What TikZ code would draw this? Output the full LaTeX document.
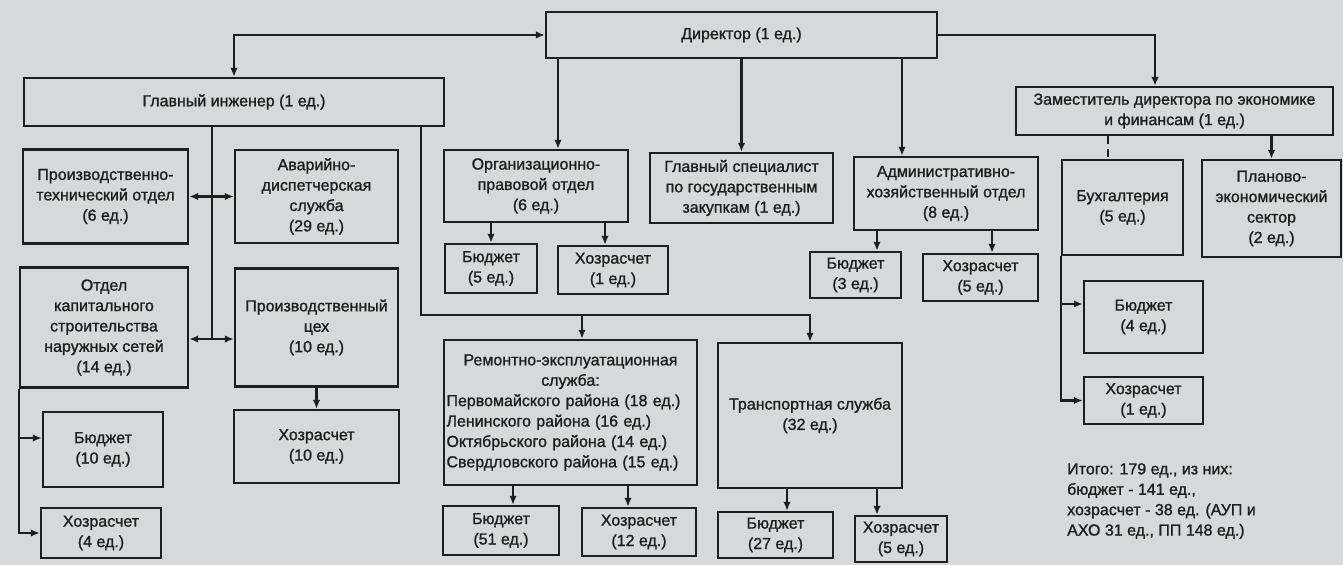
\documentclass[tikz,border=0pt]{standalone}
\usepackage{fontspec}
\setmainfont{Liberation Sans}[FakeBold=1.2]
\usepackage{tikz}
\usetikzlibrary{arrows.meta}
\definecolor{paper}{RGB}{214,217,217}
\definecolor{ink}{RGB}{30,30,30}

\begin{document}
\begin{tikzpicture}[x=0.5pt, y=-0.5pt, ->, >={Latex[length=4.5pt,width=3.8pt]},
    color=ink, line width=1.2pt,
    box/.style={draw, align=center, inner sep=1pt, font=\fontsize{8}{10.2}\selectfont}]
    \fill[paper, -] (0,0) rectangle (1343,565);
    \useasboundingbox (0,0) rectangle (1343,565);

    \node[box, minimum width=195.5pt, minimum height=23pt] (dir) at (741.5,35) {Директор (1 ед.)};
    \node[box, minimum width=210pt, minimum height=24pt] (glav) at (234,102) {Главный инженер (1 ед.)};
    \node[box, minimum width=158.5pt, minimum height=24pt] (zam) at (1174.5,111) {Заместитель директора по экономике\\и финансам (1 ед.)};

    \node[box, minimum width=82.5pt, minimum height=47pt] (pto) at (105.5,196.5) {Производственно-\\технический отдел\\(6 ед.)};
    \node[box, minimum width=81.5pt, minimum height=46.5pt] (ads) at (316.5,196.5) {Аварийно-\\диспетчерская\\служба\\(29 ед.)};
    \node[box, minimum width=84pt, minimum height=60pt] (oks) at (104,327.5) {Отдел\\капитального\\строительства\\наружных сетей\\(14 ед.)};
    \node[box, minimum width=81.5pt, minimum height=59pt] (pc) at (316.5,327.5) {Производственный\\цех\\(10 ед.)};
    \node[box, minimum width=82.5pt, minimum height=36.5pt] (pcK) at (316.5,446.5) {Хозрасчет\\(10 ед.)};
    \node[box, minimum width=60pt, minimum height=37.5pt] (oksB) at (103,449.5) {Бюджет\\(10 ед.)};
    \node[box, minimum width=60pt, minimum height=25pt] (oksK) at (101,533) {Хозрасчет\\(4 ед.)};

    \node[box, minimum width=92pt, minimum height=36pt] (opo) at (536,186) {Организационно-\\правовой отдел\\(6 ед.)};
    \node[box, minimum width=46pt, minimum height=24.5pt] (opoB) at (491,268.5) {Бюджет\\(5 ед.)};
    \node[box, minimum width=55pt, minimum height=24pt] (opoK) at (613,270) {Хозрасчет\\(1 ед.)};
    \node[box, minimum width=91.5pt, minimum height=35pt] (gs) at (741.5,188) {Главный специалист\\по государственным\\закупкам (1 ед.)};
    \node[box, minimum width=92pt, minimum height=36.5pt] (aho) at (946,193.5) {Административно-\\хозяйственный отдел\\(8 ед.)};
    \node[box, minimum width=45.5pt, minimum height=23pt] (ahoB) at (855.5,275) {Бюджет\\(3 ед.)};
    \node[box, minimum width=57.5pt, minimum height=23.5pt] (ahoK) at (980.5,277.5) {Хозрасчет\\(5 ед.)};

    \node[box, minimum width=60.5pt, minimum height=47.5pt] (buh) at (1122.5,207.5) {Бухгалтерия\\(5 ед.)};
    \node[box, minimum width=69.5pt, minimum height=48.5pt] (pes) at (1271.5,208.5) {Планово-\\экономический\\сектор\\(2 ед.)};
    \node[box, minimum width=59.5pt, minimum height=36pt] (buhB) at (1143.5,317) {Бюджет\\(4 ед.)};
    \node[box, minimum width=59.5pt, minimum height=23.5pt] (buhK) at (1143.5,400.5) {Хозрасчет\\(1 ед.)};

    \node[box, align=left, text width=124pt, inner xsep=1.25pt, minimum height=72.5pt] (res) at (570.5,412.5)
        {{\centering Ремонтно-эксплуатационная\\служба:\par}Первомайского района (18 ед.)\\Ленинского района (16 ед.)\\Октябрьского района (14 ед.)\\Свердловского района (15 ед.)};
    \node[box, minimum width=92pt, minimum height=72.5pt] (ts) at (810,415.5) {Транспортная служба\\(32 ед.)};
    \node[box, minimum width=58pt, minimum height=24.5pt] (resB) at (501,530.5) {Бюджет\\(51 ед.)};
    \node[box, minimum width=57pt, minimum height=24pt] (resK) at (639,532) {Хозрасчет\\(12 ед.)};
    \node[box, minimum width=57.5pt, minimum height=23pt] (tsB) at (775.5,535) {Бюджет\\(27 ед.)};
    \node[box, minimum width=46pt, minimum height=23pt] (tsK) at (901,539) {Хозрасчет\\(5 ед.)};

    \node[box, draw=none, align=left, anchor=north west, inner sep=0pt] (itogo) at (1066,462)
        {Итого: 179 ед., из них:\\бюджет - 141 ед.,\\хозрасчет - 38 ед. (АУП и\\АХО 31 ед., ПП 148 ед.)};

    \coordinate (bus) at (421,315);
    \coordinate (low) at ([yshift=-5.75pt]pc.west);

    \draw[<->] (dir.west) -| (glav.north);
    \draw (dir.east) -| ([xshift=-9.75pt]zam.north);
    \draw ([xshift=11pt]opo.north |- dir.south) -- ([xshift=11pt]opo.north);
    \path (dir) edge (gs);
    \draw ([xshift=-22pt]aho.north |- dir.south) -- ([xshift=-22pt]aho.north);

    \draw[-, dash pattern=on 4pt off 2.5pt] ([xshift=-7.25pt]buh.north |- zam.south) -- ([xshift=-7.25pt]buh.north);
    \draw (pes.north |- zam.south) -- (pes.north);
    \draw (buh.south west) |- (buhK.west);
    \draw ([yshift=6.5pt]buhB.west -| buh.south west) -- ([yshift=6.5pt]buhB.west);

    \draw ([xshift=10.75pt]ahoB.north |- aho.south) -- ([xshift=10.75pt]ahoB.north);
    \draw ([xshift=5.75pt]ahoK.north |- aho.south) -- ([xshift=5.75pt]ahoK.north);
    \draw (opoB.north |- opo.south) -- (opoB.north);
    \draw ([xshift=-4pt]opoK.north |- opo.south) -- ([xshift=-4pt]opoK.north);

    \draw[-] ([xshift=-11pt]glav.south) -- ([xshift=-11pt]glav.south |- low);
    \path (pto) edge[<->] (ads);
    \draw[<->] ([yshift=-5.75pt]oks.east) -- (low);
    \path (pc) edge (pcK);
    \draw (oks.south west) |- (oksK.west);
    \draw ([yshift=5.75pt]oksB.west -| oks.south west) -- ([yshift=5.75pt]oksB.west);

    \draw (glav.south -| bus) -- (bus) -| (ts.north);
    \draw ([xshift=5.75pt]res.north |- bus) -- ([xshift=5.75pt]res.north);
    \draw ([xshift=6pt]resB.north |- res.south) -- ([xshift=6pt]resB.north);
    \draw ([xshift=-5.5pt]resK.north |- res.south) -- ([xshift=-5.5pt]resK.north);
    \draw ([xshift=5.75pt]tsB.north |- ts.south) -- ([xshift=5.75pt]tsB.north);
    \draw ([xshift=-12pt]tsK.north |- ts.south) -- ([xshift=-12pt]tsK.north);
\end{tikzpicture}
\end{document}
